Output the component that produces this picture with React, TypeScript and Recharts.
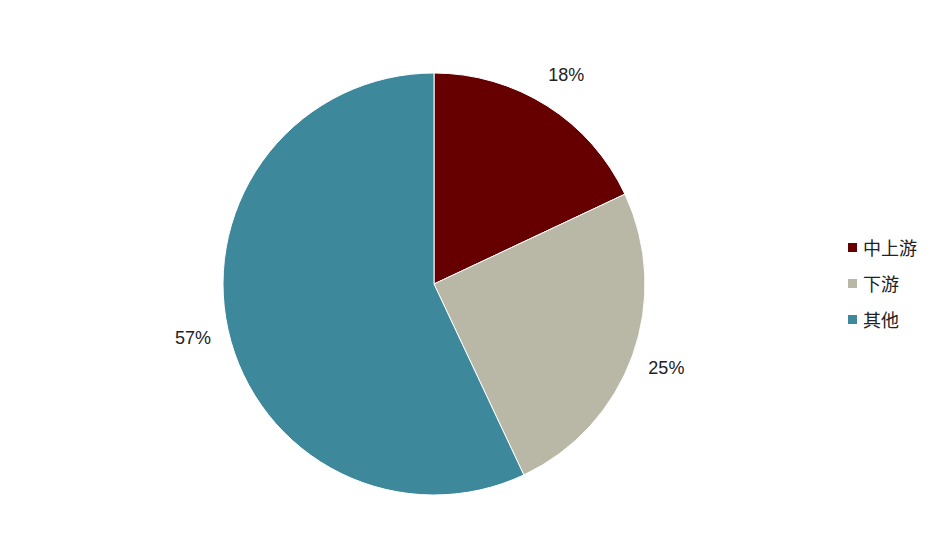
import { PieChart, Pie, Cell, Legend } from 'recharts';

const categories = ['中上游', '下游', '其他'];
const shares = [18, 25, 57];
const COLORS = ['#660000', '#B9B8A6', '#3D889B'];

const data = categories.map((name, i) => ({ name, value: shares[i] }));

const RADIAN = Math.PI / 180;

const renderLabel = ({ cx, cy, midAngle, outerRadius, value }: any) => {
  const r = outerRadius + 36;
  const x = cx + r * Math.cos(-midAngle * RADIAN);
  const y = cy + r * Math.sin(-midAngle * RADIAN);
  return (
    <text
      x={x}
      y={y}
      fill="#222"
      fontSize={18}
      fontFamily="'Liberation Sans', Arial, sans-serif"
      textAnchor="middle"
      dominantBaseline="central"
    >
      {value}%
    </text>
  );
};

const renderLegend = () => (
  <div style={{ fontFamily: "'Noto Sans CJK SC', sans-serif", fontSize: 18, color: '#222' }}>
    {data.map((d, i) => (
      <div key={d.name} style={{ display: 'flex', alignItems: 'center', height: 36 }}>
        <span style={{ width: 9, height: 9, background: COLORS[i], marginRight: 6 }} />
        <span>{d.name}</span>
      </div>
    ))}
  </div>
);

export default function App() {
  return (
    <div style={{ position: 'absolute', left: 0, top: 0, background: '#fff' }}>
      <PieChart width={948} height={544} margin={{ top: 0, right: 0, bottom: 0, left: 0 }}>
        <Pie
          data={data}
          dataKey="value"
          cx={434}
          cy={284}
          outerRadius={211}
          startAngle={90}
          endAngle={-270}
          stroke="#fff"
          strokeWidth={1}
          label={renderLabel}
          labelLine={false}
          isAnimationActive={false}
        >
          {data.map((d, i) => (
            <Cell key={`cell-${d.name}`} fill={COLORS[i]} />
          ))}
        </Pie>
        <Legend
          content={renderLegend}
          layout="vertical"
          verticalAlign="top"
          align="right"
          wrapperStyle={{ left: 848, top: 229, width: 100 }}
        />
      </PieChart>
    </div>
  );
}
